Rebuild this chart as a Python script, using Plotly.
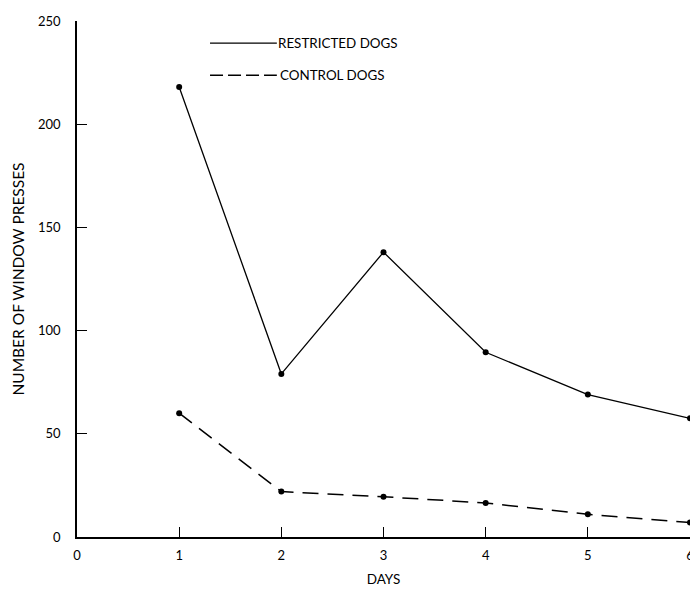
import plotly.graph_objects as go

days = [1, 2, 3, 4, 5, 6]
restricted = [218, 79, 138, 89.5, 69, 57.5]
control = [60, 22, 19.5, 16.5, 11, 7]
x_ticks = [0, 1, 2, 3, 4, 5, 6]
y_ticks = [0, 50, 100, 150, 200, 250]

FONT = "Lato"
fig = go.Figure()
fig.add_trace(go.Scatter(x=days, y=restricted, mode="lines+markers",
                         line=dict(color="black", width=1.3),
                         marker=dict(color="black", size=6),
                         cliponaxis=False, showlegend=False))
fig.add_trace(go.Scatter(x=days, y=control, mode="lines+markers",
                         line=dict(color="black", width=1.5, dash="16px,9px"),
                         marker=dict(color="black", size=6),
                         cliponaxis=False, showlegend=False))

# legend samples
fig.add_shape(type="line", xref="paper", yref="paper", x0=0.217, x1=0.326, y0=0.957, y1=0.957,
              line=dict(color="black", width=1.3))
fig.add_shape(type="line", xref="paper", yref="paper", x0=0.217, x1=0.326, y0=0.895, y1=0.895,
              line=dict(color="black", width=1.5, dash="13px,5px"))
fig.add_annotation(xref="paper", yref="paper", x=0.325, y=0.957, text="RESTRICTED DOGS",
                   showarrow=False, xanchor="left", yanchor="middle",
                   font=dict(family=FONT, size=13.4, color="black"))
fig.add_annotation(xref="paper", yref="paper", x=0.328, y=0.895, text="CONTROL DOGS",
                   showarrow=False, xanchor="left", yanchor="middle",
                   font=dict(family=FONT, size=13.4, color="black"))

fig.update_layout(
    width=690, height=590,
    margin=dict(l=77, r=0, t=21, b=53, autoexpand=False),
    paper_bgcolor="white", plot_bgcolor="white",
    font=dict(family=FONT, size=13, color="black"),
    xaxis=dict(range=[0, 6], tickvals=x_ticks, ticks="inside", ticklen=10, tickwidth=1,
               tickcolor="black", showline=True, linecolor="black", linewidth=1.5,
               showgrid=False, zeroline=False, ticklabelstandoff=6,
               ticklabeloverflow="allow", automargin=False,
               title=dict(text="DAYS", font=dict(family=FONT, size=13.5), standoff=12)),
    yaxis=dict(range=[0, 250], tickvals=y_ticks, ticks="inside", ticklen=10, tickwidth=1,
               tickcolor="black", showline=True, linecolor="black", linewidth=1.5,
               showgrid=False, zeroline=False, ticklabelstandoff=12, automargin=False,
               title=dict(text="NUMBER OF WINDOW PRESSES", font=dict(family=FONT, size=15.5), standoff=10)),
)

fig.write_html("out.html")
